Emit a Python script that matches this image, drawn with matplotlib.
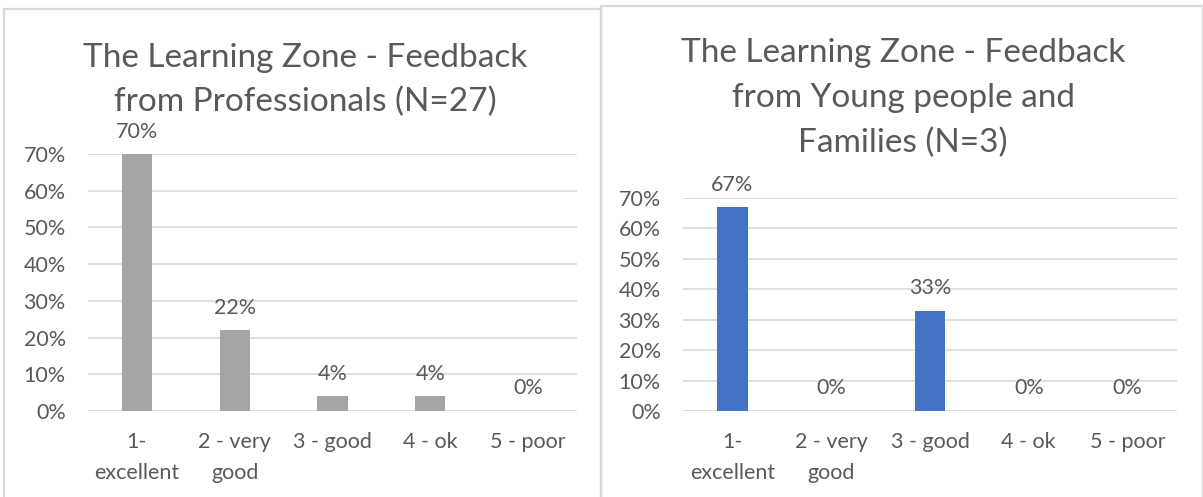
import matplotlib
matplotlib.use("Agg")
import matplotlib.pyplot as plt
from matplotlib.patches import Rectangle
from matplotlib.ticker import PercentFormatter

categories = ["1-\nexcellent", "2 - very\ngood", "3 - good", "4 - ok", "5 - poor"]
professionals = [0.70, 0.22, 0.04, 0.04, 0.00]
young_families = [0.67, 0.00, 0.33, 0.00, 0.00]
yticks = [0.0, 0.1, 0.2, 0.3, 0.4, 0.5, 0.6, 0.7]

title_left = "The Learning Zone - Feedback\nfrom Professionals (N=27)"
title_right = "The Learning Zone - Feedback\nfrom Young people and\nFamilies (N=3)"

TEXT = "#595959"
GRID = "#D9D9D9"

plt.rcParams["font.family"] = ["Lato", "DejaVu Sans"]

W, H = 1203, 497
fig = plt.figure(figsize=(W / 100, H / 100), dpi=100)


def px_box(x0, x1, ytop, ybot):
    # pixel coords (top-left origin) -> figure fraction rect
    return [x0 / W, 1 - ybot / H, (x1 - x0) / W, (ybot - ytop) / H]


# panel borders
fig.patches.append(Rectangle((4 / W, -0.05), 597 / W, 1.05 - 9 / H, transform=fig.transFigure,
                             fill=False, ec=GRID, lw=1.6))
fig.patches.append(Rectangle((601 / W, -0.05), 0.5, 1.05 - 6 / H, transform=fig.transFigure,
                             fill=False, ec=GRID, lw=1.6))


def draw(ax, values, color):
    x = range(len(categories))
    bars = ax.bar(x, values, width=0.31, color=color, zorder=3)
    ax.set_ylim(0, 0.7)
    ax.set_xlim(-0.5, len(categories) - 0.5)
    ax.set_yticks(yticks)
    ax.yaxis.set_major_formatter(PercentFormatter(1.0, decimals=0))
    ax.set_xticks(list(x))
    ax.set_xticklabels(categories)
    ax.grid(axis="y", color=GRID, lw=1.2, zorder=0)
    for s in ax.spines.values():
        s.set_visible(False)
    ax.tick_params(axis="both", length=0, labelsize=15.5, colors=TEXT)
    ax.tick_params(axis="y", pad=16)
    ax.tick_params(axis="x", pad=15)
    for lbl in ax.get_xticklabels():
        lbl.set_linespacing(1.68)
        lbl.set_verticalalignment("top")
    ax.bar_label(bars, labels=[f"{v * 100:.0f}%" for v in values], padding=9,
                 fontsize=15.5, color=TEXT)


ax1 = fig.add_axes(px_box(88, 577, 154, 411))
draw(ax1, professionals, "#A5A5A5")
fig.text(305 / W, 1 - 80 / H, title_left, ha="center", va="center", fontsize=24,
         color=TEXT, linespacing=1.53)

ax2 = fig.add_axes(px_box(683, 1177, 198, 411))
draw(ax2, young_families, "#4472C4")
fig.text(903 / W, 1 - 98 / H, title_right, ha="center", va="center", fontsize=24,
         color=TEXT, linespacing=1.63)

fig.savefig("out.png", dpi=100)
